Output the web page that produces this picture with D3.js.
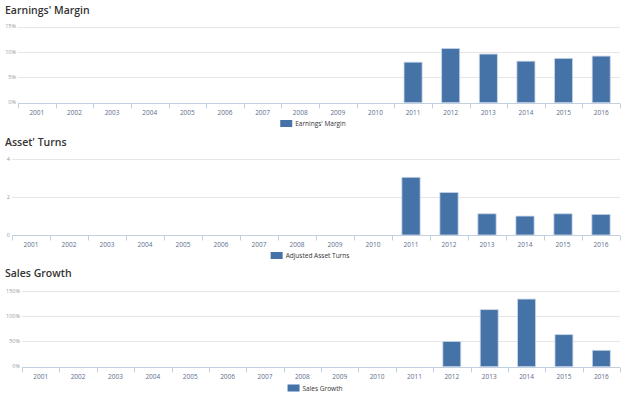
<!DOCTYPE html>
<html>
<head>
<meta charset="utf-8">
<script src="https://cdn.jsdelivr.net/npm/d3@7"></script>
<style>
  body { margin: 0; background: #fff; }
  svg { display: block; font-family: "Open Sans", "Liberation Sans", sans-serif; }
</style>
</head>
<body>
<script>
const years = ["2001","2002","2003","2004","2005","2006","2007","2008","2009","2010","2011","2012","2013","2014","2015","2016"];

// Earnings' Margin (%)
const marginValues = [null,null,null,null,null,null,null,null,null,null,8.0,10.7,9.6,8.2,8.75,9.2];
const marginTicks = [0,5,10,15];

// Adjusted Asset Turns
const turnsValues = [null,null,null,null,null,null,null,null,null,null,3.05,2.25,1.12,1.0,1.12,1.09];
const turnsTicks = [0,2,4];

// Sales Growth (%)
const growthValues = [null,null,null,null,null,null,null,null,null,null,null,50,113,134,63.5,32.5];
const growthTicks = [0,50,100,150];

const width = 628;
const height = 399;
const barColor = "#4572a7";

const panels = [
  { title: "Earnings' Margin", legend: "Earnings' Margin", values: marginValues, ticks: marginTicks,
    fmt: d => d + "%", titleY: 14, top: 26.7, bottom: 102.7, left: 18, legendY: 124 },
  { title: "Asset' Turns", legend: "Adjusted Asset Turns", values: turnsValues, ticks: turnsTicks,
    fmt: d => d, titleY: 146, top: 159.3, bottom: 235, left: 12, legendY: 256 },
  { title: "Sales Growth", legend: "Sales Growth", values: growthValues, ticks: growthTicks,
    fmt: d => d + "%", titleY: 277, top: 291, bottom: 366.7, left: 22, legendY: 388.5 }
];

const svg = d3.select("body").append("svg")
  .attr("width", width)
  .attr("height", height);

panels.forEach(function (p) {
  const right = 620;
  const g = svg.append("g");

  const x = d3.scaleBand()
    .domain(years)
    .range([p.left, right]);

  const y = d3.scaleLinear()
    .domain([0, d3.max(p.ticks)])
    .range([p.bottom, p.top]);

  // title
  g.append("text")
    .attr("x", 5)
    .attr("y", p.titleY)
    .attr("fill", "#333")
    .attr("font-size", "10.5px")
    .attr("font-weight", 600)
    .text(p.title);

  // grid lines
  g.selectAll(".grid")
    .data(p.ticks.filter(d => d > 0))
    .enter()
      .append("line")
      .attr("x1", p.left)
      .attr("x2", right)
      .attr("y1", d => Math.round(y(d)) + 0.5)
      .attr("y2", d => Math.round(y(d)) + 0.5)
      .attr("stroke", "#e6e6e6")
      .attr("stroke-width", 1);

  // y tick labels
  g.selectAll(".ylab")
    .data(p.ticks)
    .enter()
      .append("text")
      .attr("x", p.left - 2)
      .attr("y", d => y(d) + 1.5)
      .attr("text-anchor", "end")
      .attr("fill", "#999")
      .attr("font-size", "5.5px")
      .text(p.fmt);

  // bars
  const bw = x.bandwidth() * 0.48;
  g.selectAll(".bar")
    .data(years.map((yr, i) => ({ year: yr, value: p.values[i] })).filter(d => d.value != null))
    .enter()
      .append("rect")
      .attr("x", d => x(d.year) + (x.bandwidth() - bw) / 2)
      .attr("y", d => y(d.value))
      .attr("width", bw)
      .attr("height", d => p.bottom - y(d.value))
      .attr("fill", barColor)
      .attr("stroke", "#c9d6e8")
      .attr("stroke-width", 0.8);

  // x axis
  const axis = g.append("g")
    .attr("transform", "translate(0," + (Math.round(p.bottom) + 0.5) + ")")
    .call(d3.axisBottom(x).tickSize(0).tickPadding(7));
  axis.select(".domain").attr("stroke", "#c0d0e0").attr("d", "M" + p.left + ",0H" + right);
  axis.selectAll("text")
    .attr("fill", "#5b6e8c")
    .attr("font-size", "6.5px")
    .attr("font-family", "\"Open Sans\", \"Liberation Sans\", sans-serif");

  // band separator ticks
  const edges = years.map(yr => x(yr)).concat([right]);
  axis.selectAll(".sep")
    .data(edges)
    .enter()
      .append("line")
      .attr("x1", d => Math.round(d) + 0.5)
      .attr("x2", d => Math.round(d) + 0.5)
      .attr("y1", 0)
      .attr("y2", 5)
      .attr("stroke", "#c0d0e0");

  // legend
  const leg = g.append("g");
  leg.append("rect")
    .attr("x", 0)
    .attr("y", -4)
    .attr("width", 12)
    .attr("height", 7)
    .attr("fill", barColor);
  leg.append("text")
    .attr("x", 15)
    .attr("y", 2)
    .attr("fill", "#333")
    .attr("font-size", "6.5px")
    .text(p.legend);
  const bb = leg.node().getBBox();
  leg.attr("transform", "translate(" + ((p.left + right) / 2 - bb.width / 2 - 6) + "," + p.legendY + ")");
});
</script>
</body>
</html>
